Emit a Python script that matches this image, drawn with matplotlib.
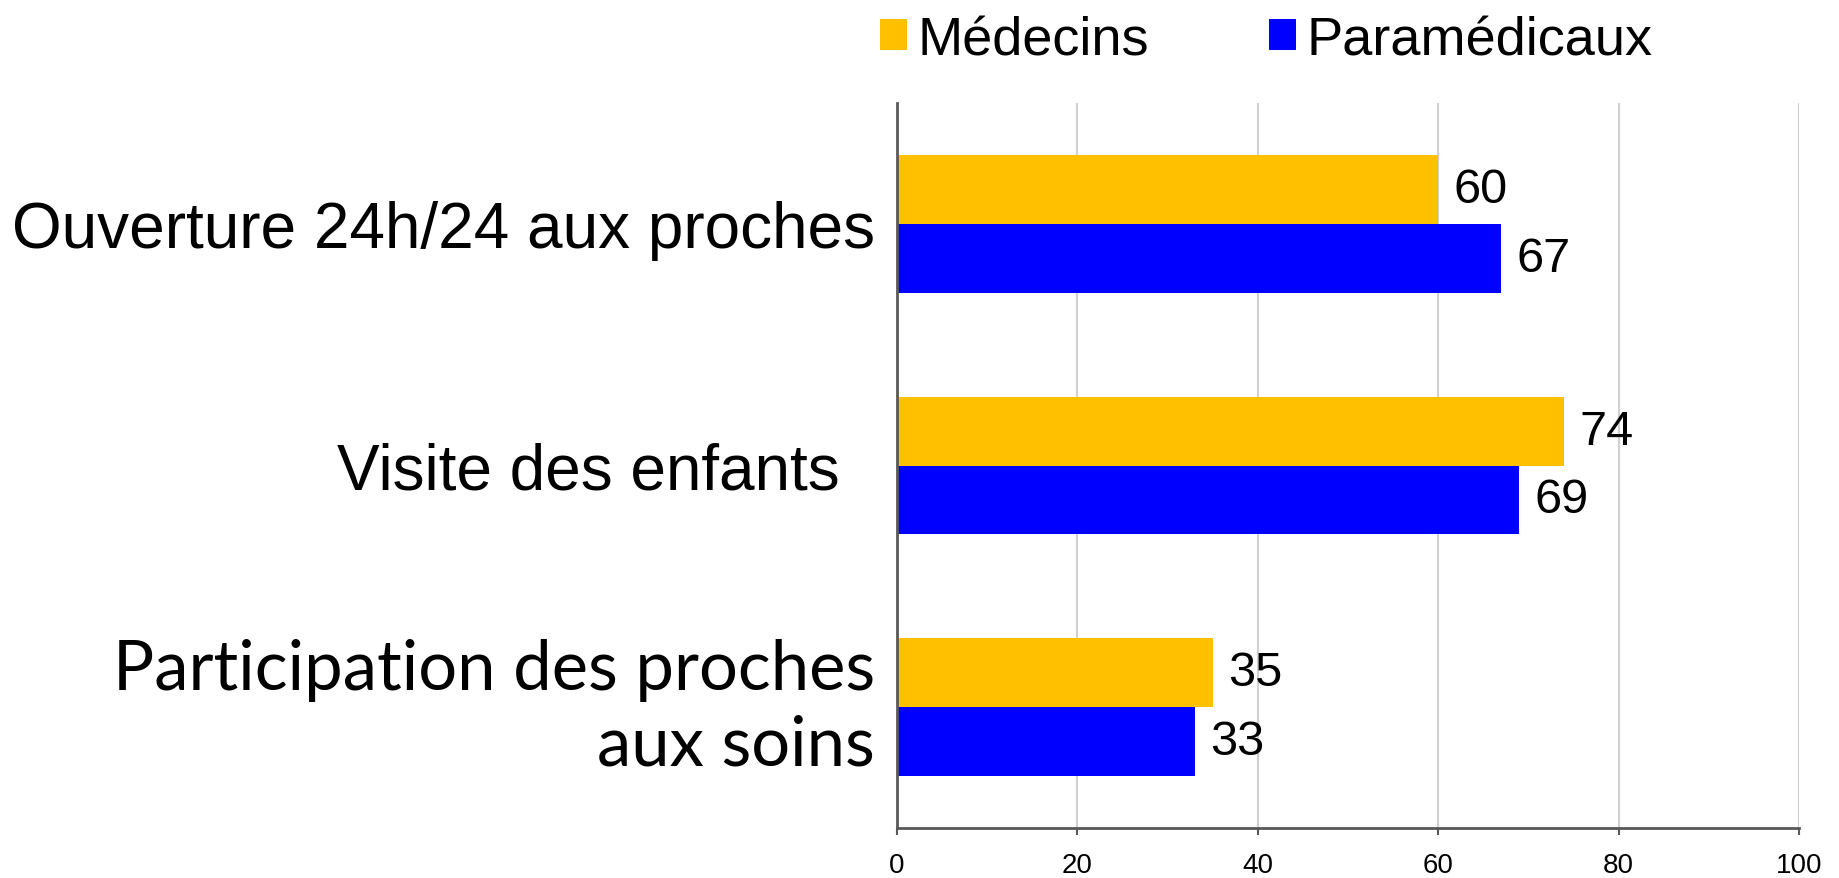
import matplotlib
matplotlib.use("Agg")
import matplotlib.pyplot as plt
import matplotlib.transforms as mtransforms
import numpy as np

# data
categories = ["Ouverture 24h/24 aux proches",
              "Visite des enfants  ",
              "Participation des proches\naux soins"]
series_names = ["Médecins", "Paramédicaux"]
medecins = [60, 74, 35]
paramedicaux = [67, 69, 33]
xticks = [0, 20, 40, 60, 80, 100]

colors = ["#FFC000", "#0000FF"]
bar_h = 0.285

fig = plt.figure(figsize=(18.39, 8.79), dpi=100)
ax = fig.add_axes([897 / 1839, 1 - 829 / 879, 902 / 1839, (829 - 104) / 879])

y = np.arange(len(categories))
b1 = ax.barh(y - bar_h / 2, medecins, height=bar_h, color=colors[0],
             label=series_names[0], zorder=2)
b2 = ax.barh(y + bar_h / 2, paramedicaux, height=bar_h, color=colors[1],
             label=series_names[1], zorder=2)

for bars, vals in ((b1, medecins), (b2, paramedicaux)):
    for rect, v in zip(bars, vals):
        ax.annotate(str(v), (v, rect.get_y() + rect.get_height() / 2),
                    xytext=(11, 0), textcoords="offset points",
                    ha="left", va="center", fontsize=35,
                    fontfamily="Liberation Sans", color="black")

ax.set_xlim(0, 100)
ax.set_ylim(len(categories) - 0.5, -0.5)
ax.set_xticks(xticks)
ax.set_xticklabels([str(t) for t in xticks], fontsize=20,
                   fontfamily="Liberation Sans")
ax.set_yticks(y)
ax.set_yticklabels(categories)
fonts = ["Liberation Sans", "Liberation Sans", "Lato"]
sizes = [46, 46, 49.5]
for lab, f, s in zip(ax.get_yticklabels(), fonts, sizes):
    lab.set_fontfamily(f)
    lab.set_fontsize(s)
    lab.set_linespacing(1.25)
ax.get_yticklabels()[2].set_verticalalignment("center")

ax.tick_params(axis="y", length=0, pad=16)
ax.tick_params(axis="x", length=5, width=1.5, color="#595959", pad=12)
ax.xaxis.grid(True, color="#d0d0d0", linewidth=1.5, zorder=0)
ax.set_axisbelow(True)
for side in ("top", "right"):
    ax.spines[side].set_visible(False)
for side in ("left", "bottom"):
    ax.spines[side].set_color("#595959")
    ax.spines[side].set_linewidth(2)

ax.legend(handles=[b1, b2], loc="upper left",
          bbox_to_anchor=(880 / 1839, 1 - 16 / 879),
          bbox_transform=fig.transFigure, ncol=2, frameon=False,
          prop={"family": "Liberation Sans", "size": 39},
          handlelength=0.5, handleheight=0.5, handletextpad=0.2,
          columnspacing=2.2, borderpad=0, borderaxespad=0)

fig.savefig("out.png", dpi=100, facecolor="white")
